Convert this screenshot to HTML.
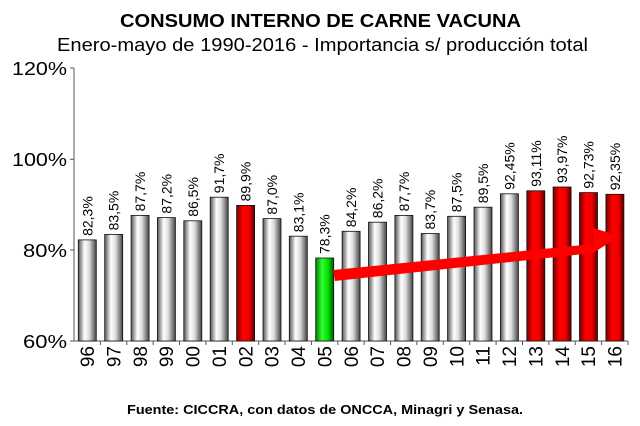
<!DOCTYPE html><html><head><style>body{margin:0;background:#fff}svg{display:block}</style></head><body>
<svg width="640" height="426" xmlns="http://www.w3.org/2000/svg" font-family="Liberation Sans, Arial, sans-serif">
<defs>
<linearGradient id="g" x1="0" x2="1"><stop offset="0" stop-color="#555"/><stop offset="0.35" stop-color="#fff"/><stop offset="0.6" stop-color="#ddd"/><stop offset="1" stop-color="#444"/></linearGradient>
<linearGradient id="r" x1="0" x2="1"><stop offset="0" stop-color="#700"/><stop offset="0.35" stop-color="#f00"/><stop offset="0.7" stop-color="#e00"/><stop offset="1" stop-color="#500"/></linearGradient>
<linearGradient id="gr" x1="0" x2="1"><stop offset="0" stop-color="#070"/><stop offset="0.35" stop-color="#3f3"/><stop offset="0.7" stop-color="#0d0"/><stop offset="1" stop-color="#050"/></linearGradient>
</defs>
<text x="120" y="27" font-size="18" font-weight="bold" textLength="401" lengthAdjust="spacingAndGlyphs">CONSUMO INTERNO DE CARNE VACUNA</text>
<text x="57" y="51" font-size="18" textLength="531" lengthAdjust="spacingAndGlyphs">Enero-mayo de 1990-2016 - Importancia s/ producción total</text>
<text x="127" y="414" font-size="13" font-weight="bold" textLength="396" lengthAdjust="spacingAndGlyphs">Fuente: CICCRA, con datos de ONCCA, Minagri y Senasa.</text>
<g font-size="18">
<text x="12" y="75" textLength="55" lengthAdjust="spacingAndGlyphs">120%</text><text x="12" y="166" textLength="55" lengthAdjust="spacingAndGlyphs">100%</text><text x="23" y="257" textLength="44" lengthAdjust="spacingAndGlyphs">80%</text><text x="23" y="348" textLength="44" lengthAdjust="spacingAndGlyphs">60%</text>
</g>
<g stroke="#555" stroke-width="1">
<line x1="74" y1="68" x2="74" y2="341"/><line x1="74" y1="341" x2="628" y2="341"/>
<line x1="70" y1="68" x2="74" y2="68"/><line x1="70" y1="159.3" x2="74" y2="159.3"/><line x1="70" y1="250" x2="74" y2="250"/><line x1="70" y1="341" x2="74" y2="341"/>
<line x1="100.4" y1="341" x2="100.4" y2="345"/><line x1="126.8" y1="341" x2="126.8" y2="345"/><line x1="153.1" y1="341" x2="153.1" y2="345"/><line x1="179.5" y1="341" x2="179.5" y2="345"/><line x1="205.9" y1="341" x2="205.9" y2="345"/><line x1="232.3" y1="341" x2="232.3" y2="345"/><line x1="258.7" y1="341" x2="258.7" y2="345"/><line x1="285" y1="341" x2="285" y2="345"/><line x1="311.4" y1="341" x2="311.4" y2="345"/><line x1="337.8" y1="341" x2="337.8" y2="345"/><line x1="364.2" y1="341" x2="364.2" y2="345"/><line x1="390.6" y1="341" x2="390.6" y2="345"/><line x1="416.9" y1="341" x2="416.9" y2="345"/><line x1="443.3" y1="341" x2="443.3" y2="345"/><line x1="469.7" y1="341" x2="469.7" y2="345"/><line x1="496.1" y1="341" x2="496.1" y2="345"/><line x1="522.5" y1="341" x2="522.5" y2="345"/><line x1="548.8" y1="341" x2="548.8" y2="345"/><line x1="575.2" y1="341" x2="575.2" y2="345"/><line x1="601.6" y1="341" x2="601.6" y2="345"/><line x1="628" y1="341" x2="628" y2="345"/>
</g>
<g stroke="#111" stroke-width="0.8">
<rect x="78.3" y="239.9" width="18" height="101.1" fill="url(#g)"/>
<rect x="104.7" y="234.4" width="18" height="106.6" fill="url(#g)"/>
<rect x="131.1" y="215.4" width="18" height="125.6" fill="url(#g)"/>
<rect x="157.4" y="217.6" width="18" height="123.4" fill="url(#g)"/>
<rect x="183.8" y="220.8" width="18" height="120.2" fill="url(#g)"/>
<rect x="210.2" y="197.2" width="18" height="143.8" fill="url(#g)"/>
<rect x="236.6" y="205.4" width="18" height="135.6" fill="url(#r)"/>
<rect x="263" y="218.6" width="18" height="122.4" fill="url(#g)"/>
<rect x="289.3" y="236.2" width="18" height="104.8" fill="url(#g)"/>
<rect x="315.7" y="258" width="18" height="83" fill="url(#gr)"/>
<rect x="342.1" y="231.3" width="18" height="109.7" fill="url(#g)"/>
<rect x="368.5" y="222.2" width="18" height="118.8" fill="url(#g)"/>
<rect x="394.9" y="215.4" width="18" height="125.6" fill="url(#g)"/>
<rect x="421.2" y="233.5" width="18" height="107.5" fill="url(#g)"/>
<rect x="447.6" y="216.3" width="18" height="124.7" fill="url(#g)"/>
<rect x="474" y="207.2" width="18" height="133.8" fill="url(#g)"/>
<rect x="500.4" y="193.8" width="18" height="147.2" fill="url(#g)"/>
<rect x="526.8" y="190.8" width="18" height="150.2" fill="url(#r)"/>
<rect x="553.1" y="187" width="18" height="154" fill="url(#r)"/>
<rect x="579.5" y="192.6" width="18" height="148.4" fill="url(#r)"/>
<rect x="605.9" y="194.3" width="18" height="146.7" fill="url(#r)"/>
</g>
<g font-size="14">
<text transform="translate(92.3,235.9) rotate(-90)">82,3%</text>
<text transform="translate(118.7,230.4) rotate(-90)">83,5%</text>
<text transform="translate(145.1,211.4) rotate(-90)">87,7%</text>
<text transform="translate(171.4,213.6) rotate(-90)">87,2%</text>
<text transform="translate(197.8,216.8) rotate(-90)">86,5%</text>
<text transform="translate(224.2,193.2) rotate(-90)">91,7%</text>
<text transform="translate(250.6,201.4) rotate(-90)">89,9%</text>
<text transform="translate(277,214.6) rotate(-90)">87,0%</text>
<text transform="translate(303.3,232.2) rotate(-90)">83,1%</text>
<text transform="translate(329.7,254) rotate(-90)">78,3%</text>
<text transform="translate(356.1,227.3) rotate(-90)">84,2%</text>
<text transform="translate(382.5,218.2) rotate(-90)">86,2%</text>
<text transform="translate(408.9,211.4) rotate(-90)">87,7%</text>
<text transform="translate(435.2,229.5) rotate(-90)">83,7%</text>
<text transform="translate(461.6,212.3) rotate(-90)">87,5%</text>
<text transform="translate(488,203.2) rotate(-90)">89,5%</text>
<text transform="translate(514.4,189.8) rotate(-90)">92,45%</text>
<text transform="translate(540.8,186.8) rotate(-90)">93,11%</text>
<text transform="translate(567.1,183) rotate(-90)">93,97%</text>
<text transform="translate(593.5,188.6) rotate(-90)">92,73%</text>
<text transform="translate(619.9,190.3) rotate(-90)">92,35%</text>
</g>
<g font-size="19" text-anchor="end">
<text transform="translate(94,346) rotate(-90)">96</text>
<text transform="translate(120.4,346) rotate(-90)">97</text>
<text transform="translate(146.8,346) rotate(-90)">98</text>
<text transform="translate(173.1,346) rotate(-90)">99</text>
<text transform="translate(199.5,346) rotate(-90)">00</text>
<text transform="translate(225.9,346) rotate(-90)">01</text>
<text transform="translate(252.3,346) rotate(-90)">02</text>
<text transform="translate(278.7,346) rotate(-90)">03</text>
<text transform="translate(305,346) rotate(-90)">04</text>
<text transform="translate(331.4,346) rotate(-90)">05</text>
<text transform="translate(357.8,346) rotate(-90)">06</text>
<text transform="translate(384.2,346) rotate(-90)">07</text>
<text transform="translate(410.6,346) rotate(-90)">08</text>
<text transform="translate(436.9,346) rotate(-90)">09</text>
<text transform="translate(463.3,346) rotate(-90)">10</text>
<text transform="translate(489.7,346) rotate(-90)">11</text>
<text transform="translate(516.1,346) rotate(-90)">12</text>
<text transform="translate(542.5,346) rotate(-90)">13</text>
<text transform="translate(568.8,346) rotate(-90)">14</text>
<text transform="translate(595.2,346) rotate(-90)">15</text>
<text transform="translate(621.6,346) rotate(-90)">16</text>
</g>
<polygon points="333,270 593,244 593,228 620,236 593,253 335,281" fill="#f00"/>
</svg></body></html>
